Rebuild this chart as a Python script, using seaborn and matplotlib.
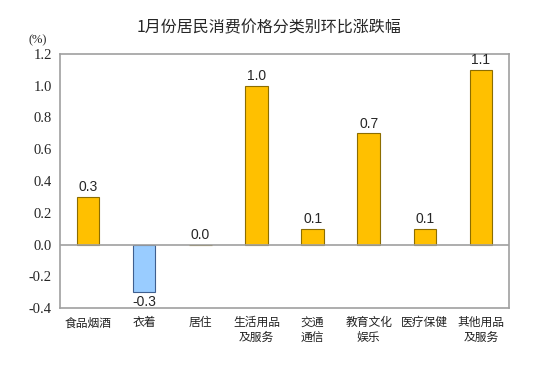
import numpy as np
import pandas as pd
import matplotlib
matplotlib.use("Agg")
import matplotlib.pyplot as plt
import seaborn as sns

categories = ["食品烟酒", "衣着", "居住", "生活用品\n及服务", "交通\n通信", "教育文化\n娱乐", "医疗保健", "其他用品\n及服务"]
values = [0.3, -0.3, 0.0, 1.0, 0.1, 0.7, 0.1, 1.1]
yticks = [-0.4, -0.2, 0.0, 0.2, 0.4, 0.6, 0.8, 1.0, 1.2]

sns.set_style("white")
plt.rcParams['font.family'] = ['Noto Sans CJK SC', 'DejaVu Sans']

df = pd.DataFrame({"cat": categories, "val": values})
colors = ["#99CCFF" if v < 0 else "#FFC000" for v in values]
edges = ["#3F5F8F" if v < 0 else "#8C6D00" for v in values]

fig = plt.figure(figsize=(5.38, 3.79), dpi=100)
ax = fig.add_axes([60 / 538, 1 - 308 / 379, 449 / 538, 254 / 379])
sns.barplot(data=df, x="cat", y="val", palette=colors, hue="cat", legend=False,
            width=0.4, ax=ax, linewidth=0.8, saturation=1)
for p, ec in zip(ax.patches, edges):
    p.set_edgecolor(ec)

ax.set_ylim(-0.4, 1.2)
ax.set_xlim(-0.5, len(categories) - 0.5)
ax.set_yticks(yticks)
ax.set_yticklabels([f"{t:.1f}" for t in yticks], family="Liberation Serif", fontsize=10.5)
ax.tick_params(axis="y", length=0, pad=6)
ax.tick_params(axis="x", length=0, pad=6)
ax.set_xticks(range(len(categories)))
ax.set_xticklabels(categories, fontsize=8.5, color="#222222", linespacing=1.2)
ax.set_xlabel("")
ax.set_ylabel("")
for s in ax.spines.values():
    s.set_color("#A0A0A0")
    s.set_linewidth(1.2)
ax.axhline(0, color="#A0A0A0", linewidth=1.2, zorder=3)

for i, v in enumerate(values):
    if v < 0:
        ax.text(i, v - 0.015, f"{v:.1f}", ha="center", va="top", fontsize=10, family="Liberation Sans")
    else:
        ax.text(i, v + 0.015, f"{v:.1f}", ha="center", va="bottom", fontsize=10, family="Liberation Sans")

fig.text(0.5, 1 - 28 / 379, "1月份居民消费价格分类别环比涨跌幅", ha="center", va="center", fontsize=11.5)
fig.text(38 / 538, 1 - 40 / 379, "(%)", ha="center", va="center", fontsize=9, family="Liberation Serif")

fig.savefig("out.png", dpi=100)
